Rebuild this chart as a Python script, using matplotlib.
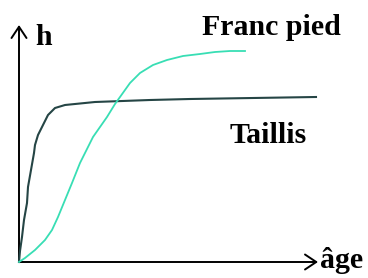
import matplotlib.pyplot as plt
from matplotlib.patches import FancyArrowPatch

# valeurs (age et hauteur, unites arbitraires)
age_taillis = [0, 1, 3, 5, 8, 9, 12, 15, 16, 19, 24, 29, 36, 46, 56, 76, 131, 171, 297]
h_taillis = [0, 11, 25, 42, 59, 75, 92, 109, 117, 127, 137, 147, 154, 157, 158, 160, 162, 163, 165]

age_franc = [0, 6, 16, 26, 33, 39, 46, 53, 61, 74, 88, 96, 101, 111, 121, 134, 148,
             164, 181, 196, 211, 226]
h_franc = [0, 4, 12, 22, 32, 45, 62, 79, 99, 125, 145, 158, 165, 179, 189, 197, 202,
           206, 208, 210, 211, 211]

fig = plt.figure(figsize=(3.68, 2.78), dpi=100)
ax = fig.add_axes([0, 0, 1, 1])
ax.set_xlim(-19, 349)
ax.set_ylim(-16, 262)
ax.axis('off')

ax.plot(age_taillis, h_taillis, color='#254545', linewidth=1.5)
ax.plot(age_franc, h_franc, color='#38deb4', linewidth=1.3)

# axes avec fleches
for fin in [(0, 237), (299, 0)]:
    fleche = FancyArrowPatch((0, 0), fin, arrowstyle='->,head_length=0.45,head_width=0.3',
                             mutation_scale=18, color='black', linewidth=1.4,
                             shrinkA=0, shrinkB=0)
    ax.add_patch(fleche)

police = dict(family='Liberation Serif', fontweight='bold', fontsize=21.5, va='baseline')
ax.text(16, 217, 'h', **police)
ax.text(183, 227, 'Franc pied', **police)
ax.text(211, 119, 'Taillis', **police)
ax.text(301, -6, 'âge', **police)

fig.savefig('out.png', dpi=100)
